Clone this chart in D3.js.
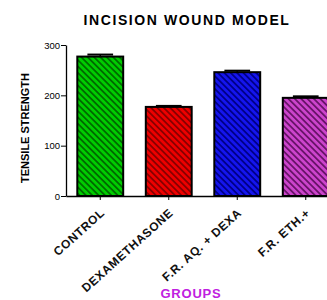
<!DOCTYPE html>
<html lang="en">
<head>
    <meta charset="UTF-8">
    <title>Incision Wound Model</title>
    <script src="https://d3js.org/d3.v7.min.js"></script>
    <style>
        body { margin: 0; background: #fff; }
        text { font-family: "Liberation Sans", Arial, sans-serif; }
    </style>
</head>
<body>
    <div id="chart"></div>
    <script>
        // Data
        const groups = ["CONTROL", "DEXAMETHASONE", "F.R. AQ. + DEXA", "F.R. ETH.+"];
        const means = [277, 177, 246, 195];
        const errors = [4, 2, 3, 3];
        const yTicks = [0, 100, 200, 300];

        const fills = ["#00cc00", "#ee0000", "#1515ee", "#cc44cc"];
        const stripes = ["#006a00", "#8a0000", "#00008a", "#6a146a"];

        const width = 327, height = 300;
        const margin = { top: 45, left: 66, bottom: 104 };
        const plotH = height - margin.top - margin.bottom;

        const svg = d3.select("#chart")
            .append("svg")
            .attr("width", width)
            .attr("height", height);

        // hatch patterns
        const defs = svg.append("defs");
        groups.forEach((g, i) => {
            const p = defs.append("pattern")
                .attr("id", "hatch" + i)
                .attr("patternUnits", "userSpaceOnUse")
                .attr("width", 4.5)
                .attr("height", 4.5)
                .attr("patternTransform", "rotate(45)");
            p.append("rect").attr("width", 4.5).attr("height", 4.5).attr("fill", fills[i]);
            p.append("rect").attr("width", 4.5).attr("height", 1.8).attr("fill", stripes[i]);
        });

        const x = d3.scaleBand()
            .domain(groups)
            .range([margin.left, margin.left + 274])
            .paddingInner(0.33)
            .paddingOuter(0.165);

        const y = d3.scaleLinear()
            .domain([0, 300])
            .range([margin.top + plotH, margin.top]);

        // Title
        svg.append("text")
            .attr("x", 187)
            .attr("y", 25)
            .attr("text-anchor", "middle")
            .attr("font-size", "14px")
            .attr("font-weight", "bold")
            .attr("letter-spacing", "1.6px")
            .text("INCISION WOUND MODEL");

        // Y axis
        const yAxis = svg.append("g")
            .attr("transform", `translate(${margin.left},0)`)
            .call(d3.axisLeft(y).tickValues(yTicks).tickSize(5).tickSizeOuter(0));
        yAxis.select(".domain").attr("stroke-width", 1.3);
        yAxis.selectAll("text").attr("font-size", "9.5px").attr("dx", "2px");

        svg.append("text")
            .attr("transform", `translate(29,128) rotate(-90)`)
            .attr("text-anchor", "middle")
            .attr("font-size", "11px")
            .attr("font-weight", "bold")
            .text("TENSILE STRENGTH");

        // Bars
        svg.selectAll(".bar")
            .data(groups)
            .join("rect")
            .attr("class", "bar")
            .attr("x", d => x(d))
            .attr("width", x.bandwidth())
            .attr("y", (d, i) => y(means[i]))
            .attr("height", (d, i) => y(0) - y(means[i]))
            .attr("fill", (d, i) => `url(#hatch${i})`)
            .attr("stroke", "#000")
            .attr("stroke-width", 2);

        // Error caps
        svg.selectAll(".err")
            .data(groups)
            .join("g")
            .attr("class", "err")
            .each(function (d, i) {
                const cx = x(d) + x.bandwidth() / 2;
                const g = d3.select(this);
                g.append("line")
                    .attr("x1", cx).attr("x2", cx)
                    .attr("y1", y(means[i])).attr("y2", y(means[i] + errors[i]))
                    .attr("stroke", "#000").attr("stroke-width", 1.5);
                g.append("line")
                    .attr("x1", cx - x.bandwidth() * 0.28).attr("x2", cx + x.bandwidth() * 0.28)
                    .attr("y1", y(means[i] + errors[i])).attr("y2", y(means[i] + errors[i]))
                    .attr("stroke", "#000").attr("stroke-width", 2);
            });

        // X axis
        const xAxis = svg.append("g")
            .attr("transform", `translate(0,${y(0)})`)
            .call(d3.axisBottom(x).tickSize(4).tickSizeOuter(0));
        xAxis.select(".domain").attr("stroke-width", 1.3);
        xAxis.selectAll("text")
            .attr("font-size", "12px")
            .attr("font-weight", "bold")
            .attr("letter-spacing", "0.6px")
            .attr("fill", "#111")
            .attr("text-anchor", "end")
            .attr("x", -8.3)
            .attr("y", 16.8)
            .attr("dy", 0)
            .attr("transform", "rotate(-42)");

        svg.append("text")
            .attr("x", 191)
            .attr("y", 298)
            .attr("text-anchor", "middle")
            .attr("font-size", "13px")
            .attr("font-weight", "bold")
            .attr("letter-spacing", "0.8px")
            .attr("fill", "#c020e0")
            .text("GROUPS");
    </script>
</body>
</html>
